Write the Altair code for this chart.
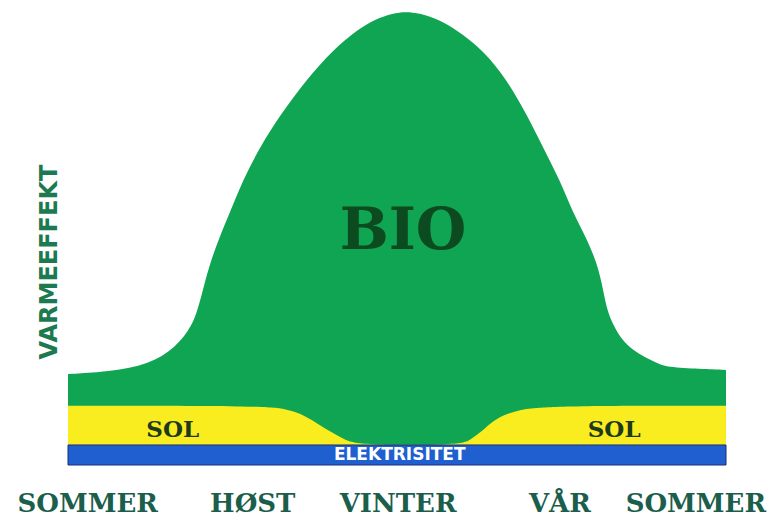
import altair as alt
import pandas as pd

# ---- data (month 0 = summer, 12 = next summer; effekt in relative units) ----
bio_month = [0.0, 0.58, 1.31, 1.86, 2.22, 2.35, 2.46, 2.59, 2.77, 2.95, 3.19, 3.50, 3.87,
             4.34, 4.83, 5.27, 5.60, 5.93, 6.15, 6.42, 6.78, 7.09, 7.57, 8.01, 8.37, 8.66,
             8.97, 9.21, 9.43, 9.65, 9.76, 9.83, 9.94, 10.10, 10.30, 10.52, 10.74, 10.92,
             11.53, 12.0]
bio_effekt = [20.0, 20.4, 21.5, 24.6, 29.7, 33.4, 38.5, 44.4, 50.3, 55.4, 62.6, 69.9, 76.9,
              84.6, 91.2, 95.6, 98.0, 99.3, 99.6, 99.3, 97.8, 95.6, 91.2, 84.6, 76.9, 69.9,
              62.6, 55.4, 50.5, 44.4, 38.5, 34.1, 30.8, 27.5, 25.3, 23.7, 22.4, 21.5,
              21.1, 20.9]

sol_month = [0.0, 3.63, 3.96, 4.23, 4.54, 4.83, 5.05, 5.33, 7.15, 7.33, 7.51, 7.70, 7.93,
             8.24, 8.48, 9.10, 12.0]
sol_effekt = [13.0, 13.0, 12.3, 11.4, 9.2, 7.0, 5.5, 4.4, 4.4, 5.5, 7.0, 9.2, 11.0,
              12.1, 12.5, 13.0, 13.0]

el_start = [0.0]
el_end = [12.0]
el_effekt = [4.4]

season_labels = ["SOMMER", "HØST", "VINTER", "VÅR", "SOMMER"]
season_month = [0.36, 3.37, 6.02, 8.97, 11.45]
season_effekt = [-10.4] * 5

sol_labels = ["SOL", "SOL"]
sol_label_month = [1.91, 9.96]
sol_label_effekt = [7.7, 7.7]

bio_label = ["BIO"]
bio_label_month = [6.11]
bio_label_effekt = [51.2]

el_label = ["ELEKTRISITET"]
el_label_month = [6.05]
el_label_effekt = [2.2]

axis_label = ["VARMEEFFEKT"]
axis_label_month = [-0.33]
axis_label_effekt = [44.6]

# ---- tables ----
bio_df = pd.DataFrame({"month": bio_month, "effekt": bio_effekt})
sol_df = pd.DataFrame({"month": sol_month, "effekt": sol_effekt})
el_df = pd.DataFrame({"start": el_start, "end": el_end, "effekt": el_effekt})
season_df = pd.DataFrame({"label": season_labels, "month": season_month, "effekt": season_effekt})
sol_lab_df = pd.DataFrame({"label": sol_labels, "month": sol_label_month, "effekt": sol_label_effekt})
bio_lab_df = pd.DataFrame({"label": bio_label, "month": bio_label_month, "effekt": bio_label_effekt})
el_lab_df = pd.DataFrame({"label": el_label, "month": el_label_month, "effekt": el_label_effekt})
axis_lab_df = pd.DataFrame({"label": axis_label, "month": axis_label_month, "effekt": axis_label_effekt})

xs = alt.Scale(domain=[0, 12], nice=False, zero=False)
ys = alt.Scale(domain=[0, 100], nice=False, zero=True)


def X(field="month"):
    return alt.X(f"{field}:Q", scale=xs, axis=None)


def Y(field="effekt"):
    return alt.Y(f"{field}:Q", scale=ys, axis=None)


bio = alt.Chart(bio_df).mark_area(color="#10a552", interpolate="basis").encode(
    x=X(), y=Y()
)

sol = alt.Chart(sol_df).mark_area(color="#f9ec1f", interpolate="basis").encode(
    x=X(), y=Y()
)

el = alt.Chart(el_df).mark_rect(color="#1f5fcf", stroke="#1b2f7a", strokeWidth=1).encode(
    x=X("start"), x2="end:Q", y=Y(), y2=alt.datum(0)
)

seasons = alt.Chart(season_df).mark_text(
    font="DejaVu Serif", fontSize=26, fontWeight="bold", color="#1b5e4c",
    align="center", baseline="alphabetic"
).encode(x=X(), y=Y(), text="label:N")

sol_text = alt.Chart(sol_lab_df).mark_text(
    font="DejaVu Serif", fontSize=23, fontWeight="bold", color="#1e3a1c",
    align="center", baseline="middle"
).encode(x=X(), y=Y(), text="label:N")

bio_text = alt.Chart(bio_lab_df).mark_text(
    font="DejaVu Serif", fontSize=58, fontWeight="bold", color="#0c4a1f",
    align="center", baseline="middle"
).encode(x=X(), y=Y(), text="label:N")

el_text = alt.Chart(el_lab_df).mark_text(
    font="DejaVu Sans", fontSize=17, fontWeight="bold", color="#ffffff",
    align="center", baseline="middle"
).encode(x=X(), y=Y(), text="label:N")

axis_text = alt.Chart(axis_lab_df).mark_text(
    font="DejaVu Sans", fontSize=24, fontWeight="bold", color="#1d7a50",
    align="center", baseline="middle", angle=270
).encode(x=X(), y=Y(), text="label:N")

chart = alt.layer(bio, sol, el, seasons, sol_text, bio_text, el_text, axis_text).properties(
    width=658, height=455,
    autosize="none",
    padding={"left": 60, "top": 2, "right": 44, "bottom": 54},
).configure_view(stroke=None)

chart.save("out.html", embed_options={"renderer": "svg", "actions": False})
